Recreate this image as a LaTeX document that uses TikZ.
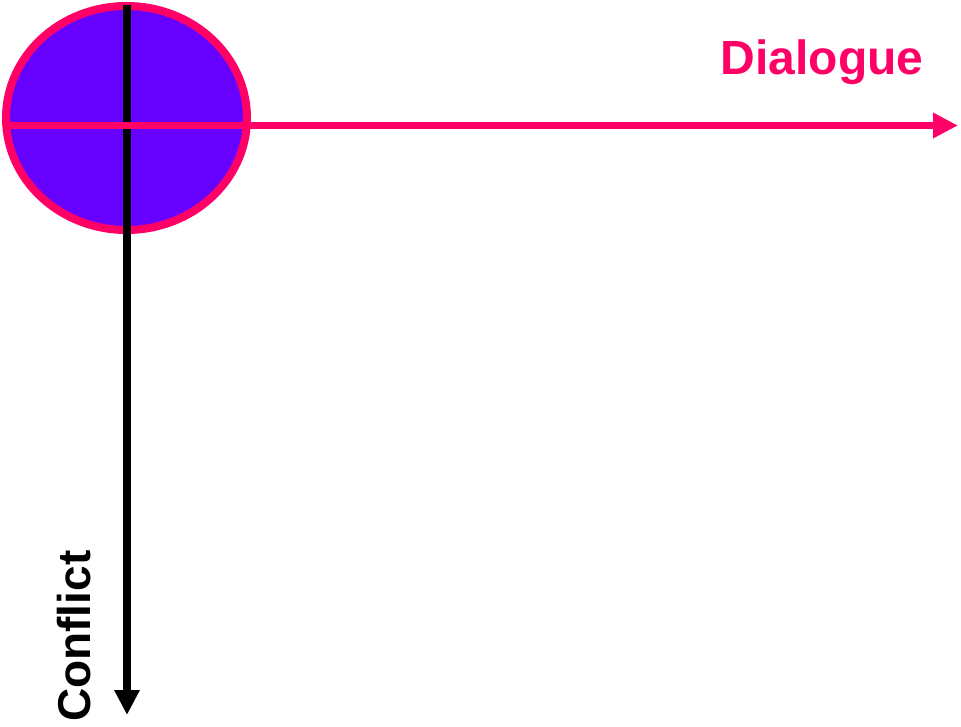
\documentclass[tikz,border=0pt]{standalone}
\usepackage{fontspec}
\setmainfont{Liberation Sans}
\usepackage{tikz}
\usetikzlibrary{arrows.meta,positioning,shapes.geometric}
\usepackage{xcolor}
\definecolor{AxisPink}{HTML}{FF0066}
\definecolor{AxisBlack}{HTML}{000000}
\definecolor{CoreViolet}{HTML}{6600FF}
\tikzset{
  axisarrow/.style={-{Triangle[length=25pt,width=24pt]},line width=7.5pt},
  dialoguearrow/.style={axisarrow,draw=AxisPink},
  conflictarrow/.style={axisarrow,draw=AxisBlack},
  core/.style={ellipse,draw=AxisPink,line width=8pt,fill=CoreViolet,minimum width=241pt,minimum height=224pt,inner sep=0pt},
  axislabel/.style={font=\fontsize{#1}{#1}\selectfont\bfseries,inner sep=0pt},
  axislabel/.default=46
}

\begin{document}
\begin{tikzpicture}[x=1pt,y=-1pt]
  \useasboundingbox (0,0) rectangle (961,727);
  \node[core] (origin) at (126.5,118) {};
  % axes
  \coordinate (conflicttop) at (127,5);
  \coordinate (conflictend) at (127,715);
  \coordinate (dialoguestart) at (3,125.5);
  \coordinate (dialogueend) at (958,125.5);
  \draw[conflictarrow] (conflicttop) -- (conflictend);
  \draw[dialoguearrow] (dialoguestart) -- (dialogueend);
  % labels
  \node[axislabel=48,text=AxisPink,anchor=base west] (dialogue) at (720.5,75) {Dialogue};
  \node[axislabel=46,text=AxisBlack,anchor=base west,rotate=90] (conflict) at (90,722) {Conflict};
\end{tikzpicture}
\end{document}
